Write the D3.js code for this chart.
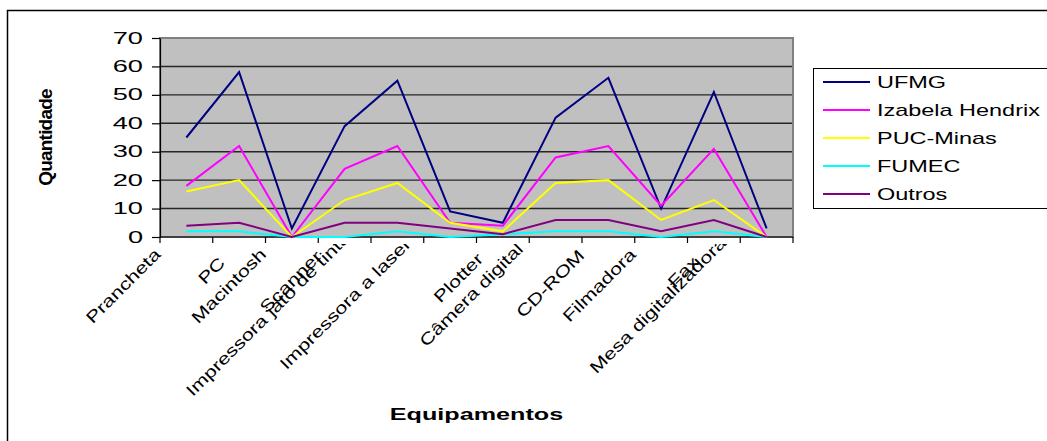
<!DOCTYPE html>
<html>
<head>
<meta charset="utf-8">
<script src="https://cdn.jsdelivr.net/npm/d3@7"></script>
<style>
  html, body { margin: 0; padding: 0; background: #fff; }
  svg { display: block; }
  text { font-family: "Liberation Sans", Arial, sans-serif; fill: #000; }
</style>
</head>
<body>
<svg id="chart" width="1047" height="441"></svg>
<script>
// Equipment categories (x axis)
const categories = [
  "Prancheta", "PC", "Macintosh", "Scanner", "Impressora jato de tinta",
  "Impressora a laser", "Plotter", "Câmera digital", "CD-ROM", "Filmadora",
  "Fax", "Mesa digitalizadora"
];

// Quantities per institution
const ufmg    = [35, 58, 3, 39, 55, 9, 5, 42, 56, 10, 51, 3];
const izabela = [18, 32, 0, 24, 32, 5, 4, 28, 32, 11, 31, 0];
const puc     = [16, 20, 0, 13, 19, 5, 2, 19, 20, 6, 13, 0];
const fumec   = [2, 2, 0, 0, 2, 0, 1, 2, 2, 0, 2, 0];
const outros  = [4, 5, 0, 5, 5, 3, 1, 6, 6, 2, 6, 0];

const seriesNames  = ["UFMG", "Izabela Hendrix", "PUC-Minas", "FUMEC", "Outros"];
const seriesColors = ["#000080", "#FF00FF", "#FFFF00", "#00FFFF", "#800080"];
const yTicks = [0, 10, 20, 30, 40, 50, 60, 70];

const seriesData = [ufmg, izabela, puc, fumec, outros];

const svg = d3.select("#chart");

// Plot area
const plot = { left: 160, right: 793, top: 38, bottom: 237 };

const x = d3.scaleBand().domain(categories).range([plot.left, plot.right]);
const y = d3.scaleLinear().domain([0, 70]).range([plot.bottom, plot.top]);
const cx = c => x(c) + x.bandwidth() / 2;

// Outer chart frame
svg.append("rect")
  .attr("x", 7.5).attr("y", 10.5)
  .attr("width", 1200).attr("height", 600)
  .attr("fill", "none").attr("stroke", "#000").attr("stroke-width", 1.5);

// Plot background
svg.append("rect")
  .attr("x", plot.left).attr("y", plot.top)
  .attr("width", plot.right - plot.left).attr("height", plot.bottom - plot.top)
  .attr("fill", "#C0C0C0");

// Horizontal gridlines
svg.append("g")
  .selectAll("line")
  .data(yTicks.filter(d => d > 0 && d < 70))
  .join("line")
  .attr("x1", plot.left).attr("x2", plot.right)
  .attr("y1", d => y(d)).attr("y2", d => y(d))
  .attr("stroke", "#262626").attr("stroke-width", 1.4);

// Plot border
svg.append("rect")
  .attr("x", plot.left).attr("y", plot.top)
  .attr("width", plot.right - plot.left).attr("height", plot.bottom - plot.top)
  .attr("fill", "none").attr("stroke", "#808080").attr("stroke-width", 2);

// Y axis
const yAxis = svg.append("g")
  .attr("transform", `translate(${plot.left},0)`)
  .call(d3.axisLeft(y).tickValues(yTicks).tickSize(8).tickSizeOuter(0));
yAxis.select(".domain").attr("stroke", "#000").attr("stroke-width", 1.2);
yAxis.selectAll(".tick line").attr("stroke", "#000").attr("stroke-width", 1.2);
yAxis.selectAll(".tick text")
  .attr("x", null)
  .attr("font-size", 16)
  .attr("font-family", "Liberation Sans, Arial, sans-serif")
  .attr("text-anchor", "end")
  .attr("transform", "translate(-17,0) scale(1.7,1)");

// X axis: tick marks on category boundaries
const bounds = categories.map(c => x(c)).concat([plot.right]);
svg.append("line")
  .attr("x1", plot.left).attr("x2", plot.right)
  .attr("y1", plot.bottom).attr("y2", plot.bottom)
  .attr("stroke", "#000").attr("stroke-width", 1.2);
svg.append("g")
  .selectAll("line")
  .data(bounds)
  .join("line")
  .attr("x1", d => d).attr("x2", d => d)
  .attr("y1", plot.bottom).attr("y2", plot.bottom + 6)
  .attr("stroke", "#000").attr("stroke-width", 1.2);

// Category labels, rotated 45°, clipped just below the axis
svg.append("clipPath").attr("id", "labelClip")
  .append("rect").attr("x", 0).attr("y", plot.bottom + 7)
  .attr("width", 1047).attr("height", 441);

const labelSx = 1.3;
const labels = svg.append("g").attr("clip-path", "url(#labelClip)")
  .selectAll("text")
  .data(categories)
  .join("text")
  .attr("font-size", 16.5)
  .attr("text-anchor", "end")
  .text(d => d);
labels.each(function (d) {
  const len = this.getComputedTextLength() * labelSx;
  const ex = cx(d) - 8 - 0.17 * len;
  const ey = plot.bottom + 31 - 0.13 * len;
  d3.select(this).attr("transform", `translate(${ex},${ey}) rotate(-45) scale(${labelSx},1)`);
});

// Axis titles
svg.append("text")
  .attr("transform", `translate(${(plot.left + plot.right) / 2},420) scale(1.48,1)`)
  .attr("text-anchor", "middle")
  .attr("font-size", 17).attr("font-weight", "bold")
  .text("Equipamentos");

svg.append("text")
  .attr("transform", `translate(52,${(plot.top + plot.bottom) / 2}) rotate(-90)`)
  .attr("text-anchor", "middle")
  .attr("font-size", 19).attr("font-weight", "bold")
  .attr("letter-spacing", -0.8)
  .text("Quantidade");

// Series lines
const line = d3.line()
  .x((d, i) => cx(categories[i]))
  .y(d => y(d));

svg.append("g")
  .selectAll("path")
  .data(seriesData)
  .join("path")
  .attr("d", d => line(d))
  .attr("fill", "none")
  .attr("stroke", (d, i) => seriesColors[i])
  .attr("stroke-width", 2)
  .attr("stroke-linejoin", "miter");

// Legend
const legend = svg.append("g");
legend.append("rect")
  .attr("x", 813.5).attr("y", 68.5)
  .attr("width", 300).attr("height", 140)
  .attr("fill", "#fff").attr("stroke", "#000").attr("stroke-width", 1);

const rows = legend.selectAll("g.row")
  .data(seriesNames)
  .join("g")
  .attr("class", "row")
  .attr("transform", (d, i) => `translate(0,${82 + i * 28})`);
rows.append("line")
  .attr("x1", 823).attr("x2", 870)
  .attr("y1", 0).attr("y2", 0)
  .attr("stroke", (d, i) => seriesColors[i])
  .attr("stroke-width", 2);
rows.append("text")
  .attr("transform", "translate(877,6) scale(1.38,1)")
  .attr("font-size", 17)
  .text(d => d);
</script>
</body>
</html>
